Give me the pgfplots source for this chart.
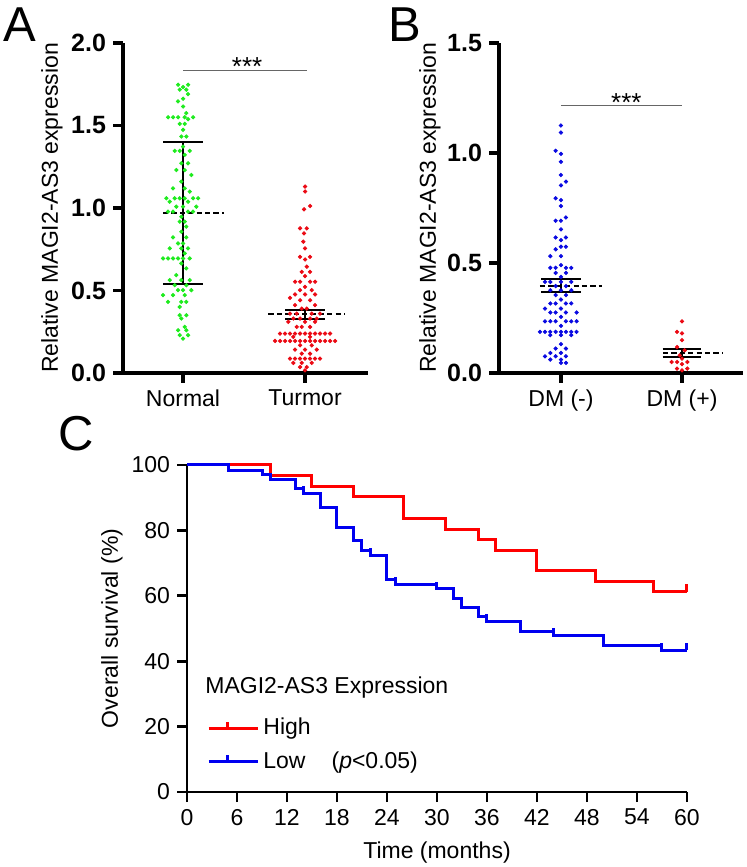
\documentclass[border=0pt]{standalone}
\usepackage{fontspec}
\setmainfont{Liberation Sans}
\usepackage{pgfplots}
\pgfplotsset{compat=1.18}
\definecolor{cgreen}{RGB}{30,235,30}
\definecolor{cred}{RGB}{235,10,20}
\definecolor{cblue}{RGB}{10,10,225}
\definecolor{kmred}{RGB}{255,0,0}
\definecolor{kmblue}{RGB}{0,0,240}
\pgfdeclareplotmark{cens}{\pgfpathmoveto{\pgfqpoint{0pt}{0pt}}\pgfpathlineto{\pgfqpoint{0pt}{3.6pt}}\pgfusepathqstroke}
\pgfplotsset{
  dotplot/.style={
    scale only axis, axis x line=bottom, axis y line=left,
    axis line style={line width=1.75pt,-}, tick style={line width=1.75pt,black},
    major tick length=5pt, tick align=outside, clip=false,
    /pgf/number format/assume math mode=true,
    xtick={1,2},
    yticklabel style={font=\bfseries\fontsize{12.5}{13}\selectfont,
      /pgf/number format/fixed, /pgf/number format/fixed zerofill, /pgf/number format/precision=1},
    xticklabel style={font=\fontsize{11.5}{12}\selectfont},
    label style={font=\fontsize{11.5}{12}\selectfont},
  },
  dots/.style={only marks, mark=*, mark size=0.85pt, mark options={draw=#1, fill=#1}},
  bar/.style={black, line width=1pt},
  meanline/.style={black, line width=1pt, dash pattern=on 2.6pt off 1.6pt},
  sig/.style={black!60, line width=0.5pt},
}
\begin{document}
\begin{tikzpicture}
\useasboundingbox (0,0) rectangle (373.5pt,433.5pt);
\node[anchor=base west, inner sep=0, font=\fontsize{24.5}{25}\selectfont] at (1.5pt,412.5pt) {A};
\node[anchor=base west, inner sep=0, font=\fontsize{24.5}{25}\selectfont] at (194pt,412.5pt) {B};
\node[anchor=base west, inner sep=0, font=\fontsize{24.5}{25}\selectfont] at (29pt,208pt) {C};

% ---------------- Panel A
\begin{axis}[dotplot, at={(61.5pt,247pt)}, anchor=south west,
  width=122.5pt, height=165pt, xmin=0.508, xmax=2.516, ymin=0, ymax=2,
  ytick={0,0.5,1,1.5,2}, xticklabels={Normal,Turmor},
  ylabel={Relative MAGI2-AS3 expression},
  ylabel style={at={(axis description cs:-0.29,0.5)}, anchor=center}]
\addplot[dots=cgreen] coordinates {
(0.959,1.747)(1.041,1.747)(1.000,1.733)(0.973,1.717)(1.027,1.717)(1.041,1.690)
(1.000,1.662)(0.959,1.646)(1.000,1.615)(1.027,1.575)
(0.877,1.550)(0.918,1.550)(0.959,1.550)(1.014,1.550)(1.082,1.550)
(1.041,1.538)(0.973,1.510)(1.014,1.510)(1.000,1.474)(0.986,1.433)(1.027,1.433)
(1.000,1.372)(0.932,1.346)(0.973,1.346)(1.055,1.346)(1.014,1.322)
(0.986,1.271)(1.041,1.271)(0.945,1.230)(1.014,1.230)(1.068,1.200)(0.986,1.160)
(0.918,1.119)(1.014,1.119)(1.055,1.099)
(0.863,1.059)(0.932,1.059)(0.973,1.059)(1.014,1.059)(1.082,1.059)(1.123,1.059)
(0.891,1.038)(1.041,1.038)(0.945,1.008)(1.000,1.008)(1.109,1.008)
(0.877,0.978)(0.918,0.978)(1.041,0.978)(1.082,0.978)(0.986,0.947)
(0.973,0.917)(1.014,0.917)(1.027,0.887)(0.986,0.856)(0.918,0.822)(1.027,0.822)
(0.959,0.785)(1.000,0.785)(0.891,0.755)(0.986,0.755)(1.041,0.755)(1.014,0.725)
(0.836,0.694)(0.877,0.694)(0.918,0.694)(0.959,0.694)(1.000,0.694)(1.055,0.694)
(0.986,0.664)(1.027,0.634)(0.945,0.593)(0.891,0.563)(0.986,0.563)(1.055,0.563)
(0.932,0.532)(1.027,0.532)(0.959,0.502)(1.000,0.502)(1.068,0.502)
(0.836,0.472)(0.918,0.472)(1.014,0.472)(0.877,0.431)(0.986,0.431)(1.027,0.431)
(0.973,0.400)(0.973,0.350)(1.027,0.350)(0.986,0.330)(1.014,0.279)
(0.959,0.259)(1.027,0.259)(0.973,0.229)(1.041,0.229)(1.000,0.208)};
\addplot[dots=cred] coordinates {
(2.000,1.130)(2.000,1.100)(2.041,1.012)(1.992,0.992)(1.959,0.877)(2.014,0.877)
(1.992,0.846)(1.986,0.796)(2.000,0.755)(1.959,0.704)(2.041,0.704)(2.000,0.688)
(2.014,0.644)(1.973,0.613)(2.041,0.613)(2.000,0.587)
(1.918,0.553)(1.959,0.553)(2.041,0.553)(2.082,0.553)(2.000,0.522)
(1.959,0.502)(2.055,0.502)(1.918,0.476)(2.000,0.476)(2.082,0.476)(1.877,0.455)
(1.959,0.441)(2.041,0.441)(1.918,0.411)(2.082,0.411)(1.973,0.390)(2.014,0.390)
(1.877,0.360)(1.932,0.360)(2.055,0.360)(2.123,0.360)
(1.904,0.330)(1.959,0.330)(2.041,0.330)(2.096,0.330)
(1.863,0.310)(2.000,0.310)(2.082,0.310)(1.932,0.279)(1.973,0.279)(2.041,0.279)
(1.795,0.239)(1.836,0.239)(1.877,0.239)(1.918,0.239)(1.959,0.239)(2.000,0.239)
(2.041,0.239)(2.082,0.239)(2.123,0.239)(2.164,0.239)(2.205,0.239)
(1.904,0.219)(2.041,0.219)
(1.754,0.194)(1.795,0.194)(1.836,0.194)(1.877,0.194)(1.918,0.194)(1.959,0.194)
(2.000,0.194)(2.041,0.194)(2.082,0.194)(2.123,0.194)(2.164,0.194)(2.205,0.194)(2.246,0.194)
(1.959,0.168)(2.055,0.168)(1.918,0.142)(2.000,0.142)(2.096,0.142)
(1.973,0.117)(2.041,0.117)
(1.877,0.087)(1.918,0.087)(1.959,0.087)(2.000,0.087)(2.041,0.087)(2.082,0.087)(2.123,0.087)
(1.904,0.061)(1.973,0.061)(2.055,0.061)(1.959,0.036)(2.014,0.036)(2.000,0.016)};
% Normal: mean and SD
\addplot[bar] coordinates {(1,0.540) (1,1.399)};
\addplot[bar] coordinates {(0.836,1.399) (1.164,1.399)};
\addplot[bar] coordinates {(0.836,0.540) (1.164,0.540)};
\addplot[meanline] coordinates {(0.836,0.972) (1.333,0.972)};
% Turmor: mean and SEM
\addplot[bar] coordinates {(2,0.330) (2,0.381)};
\addplot[bar] coordinates {(1.836,0.381) (2.164,0.381)};
\addplot[bar] coordinates {(1.836,0.330) (2.164,0.330)};
\addplot[meanline] coordinates {(1.700,0.356) (2.328,0.356)};
\addplot[sig] coordinates {(1.0,1.832) (2.02,1.832)};
\node[anchor=base, font=\fontsize{13}{13}\selectfont, inner sep=0] at (axis cs:1.525,1.80) {***};
\end{axis}

% ---------------- Panel B
\begin{axis}[dotplot, at={(249.5pt,247pt)}, anchor=south west,
  width=122pt, height=165pt, xmin=0.488, xmax=2.504, ymin=0, ymax=1.5,
  ytick={0,0.5,1,1.5}, xticklabels={DM (-),DM (+)},
  ylabel={Relative MAGI2-AS3 expression},
  ylabel style={at={(axis description cs:-0.283,0.5)}, anchor=center}]
\addplot[dots=cblue] coordinates {
(1.000,1.125)(1.000,1.093)(0.956,1.010)(1.000,0.996)(1.000,0.960)(1.000,0.900)
(1.041,0.870)(1.000,0.853)(0.956,0.794)(1.000,0.786)(1.000,0.759)(1.041,0.707)
(0.956,0.692)(1.000,0.692)(1.000,0.653)(0.956,0.616)(1.041,0.616)(1.000,0.604)
(1.000,0.574)(1.041,0.574)(0.956,0.562)(0.912,0.531)(1.000,0.531)(1.000,0.490)
(0.912,0.478)(0.956,0.478)(1.041,0.478)(1.085,0.478)(0.956,0.455)(1.041,0.455)
(1.000,0.437)(0.868,0.414)(0.912,0.414)(1.000,0.414)(1.085,0.414)
(0.956,0.395)(1.041,0.395)(0.912,0.376)(1.000,0.376)(1.085,0.376)
(0.956,0.354)(1.041,0.354)(1.000,0.334)
(0.912,0.316)(0.956,0.316)(1.041,0.316)(1.085,0.316)(0.868,0.293)(1.000,0.293)
(0.912,0.275)(0.956,0.275)(1.041,0.275)(1.129,0.275)(1.000,0.255)
(0.868,0.235)(0.912,0.235)(0.956,0.235)(1.041,0.235)(1.085,0.235)(1.129,0.235)
(1.000,0.214)
(0.826,0.187)(0.868,0.187)(0.912,0.187)(0.956,0.187)(1.000,0.187)(1.041,0.187)(1.085,0.187)(1.129,0.187)
(0.912,0.172)(1.000,0.172)(1.085,0.172)(1.000,0.131)(0.956,0.111)(1.041,0.111)
(0.912,0.091)(1.000,0.091)(0.868,0.076)(0.956,0.076)(1.041,0.076)
(0.912,0.061)(1.000,0.061)(1.000,0.046)(1.041,0.046)};
\addplot[dots=cred] coordinates {
(2.000,0.235)(1.959,0.187)(2.000,0.180)(2.000,0.149)(1.959,0.118)(2.022,0.103)
(1.981,0.080)(2.000,0.065)(1.915,0.050)(1.959,0.050)(2.044,0.050)(2.000,0.040)
(1.959,0.020)(2.044,0.020)(2.000,0.012)};
\addplot[bar] coordinates {(1,0.369) (1,0.427)};
\addplot[bar] coordinates {(0.837,0.427) (1.163,0.427)};
\addplot[bar] coordinates {(0.837,0.369) (1.163,0.369)};
\addplot[meanline] coordinates {(0.826,0.396) (1.336,0.396)};
\addplot[bar] coordinates {(2,0.073) (2,0.111)};
\addplot[bar] coordinates {(1.840,0.111) (2.160,0.111)};
\addplot[bar] coordinates {(1.840,0.073) (2.160,0.073)};
\addplot[meanline] coordinates {(1.843,0.093) (2.342,0.093)};
\addplot[sig] coordinates {(1.0,1.218) (2.0,1.218)};
\node[anchor=base, font=\fontsize{13}{13}\selectfont, inner sep=0] at (axis cs:1.54,1.19) {***};
\end{axis}

% ---------------- Panel C
\begin{axis}[scale only axis, at={(93.5pt,37.5pt)}, anchor=south west,
  width=250pt, height=163.5pt, xmin=0, xmax=60, ymin=0, ymax=100,
  axis x line=bottom, axis y line=left,
  axis line style={line width=1.35pt,-}, tick style={line width=1.35pt,black},
  major tick length=5pt, tick align=outside, clip=false,
  xtick={0,6,...,60}, ytick={0,20,...,100},
  /pgf/number format/assume math mode=true,
  ticklabel style={font=\fontsize{11.5}{12}\selectfont},
  label style={font=\fontsize{11.5}{12}\selectfont},
  xlabel={Time (months)}, ylabel={Overall survival (\%)},
  xlabel style={at={(axis description cs:0.5,-0.202)}, anchor=base},
  ylabel style={at={(axis description cs:-0.15,0.5)}, anchor=center},
  legend cell align=left,
  legend style={at={(axis cs:2.4,14.4)}, anchor=west, draw=none, fill=none,
    inner sep=0pt, row sep=3pt, font=\fontsize{11.5}{12}\selectfont,
    nodes={inner sep=2pt}},
  legend image code/.code={
    \draw[#1, line width=1.5pt] (0pt,0pt) -- (18.5pt,0pt);
    \draw[#1, line width=1.5pt] (9.25pt,0pt) -- (9.25pt,3.2pt);
    \path (0pt,0pt) -- (24.5pt,0pt);}]
\addplot[const plot, kmred, line width=1.5pt] coordinates {
(0,100)(10,96.7)(15,93.4)(20,90.3)(26,83.7)(31,80.4)(35,77.3)(37,74.0)(42,67.6)(49,64.3)(56,61.3)(60,61.3)};
\addlegendentry{High}
\addplot[const plot, kmblue, line width=1.5pt] coordinates {
(0,100)(5,98.4)(9,97.1)(10,95.7)(13,92.8)(14,91.3)(16,87.0)(18,80.9)(20,76.9)(21,74.0)(22,72.3)(24,65.0)(25,63.6)(30,62.1)(32,59.2)(33,56.4)(35,53.6)(36,52.1)(40,49.0)(44,47.8)(50,44.7)(57,43.4)(60,43.4)};
\addlegendentry{Low\hspace{13pt}(\textit{p}<0.05)}
\addplot[only marks, mark=cens, kmred, mark options={line width=1.5pt}, forget plot] coordinates {(60,61.3)};
\addplot[only marks, mark=cens, kmblue, mark options={line width=1.5pt}, forget plot] coordinates {
(5,98.4)(14,91.3)(22,72.3)(25,63.6)(30,62.1)(36,52.1)(44,47.8)(57,43.4)(60,43.4)};
\node[anchor=base west, inner sep=0, font=\fontsize{11.5}{12}\selectfont] at (axis cs:2.16,30.0) {MAGI2-AS3 Expression};
\end{axis}
\end{tikzpicture}
\end{document}
